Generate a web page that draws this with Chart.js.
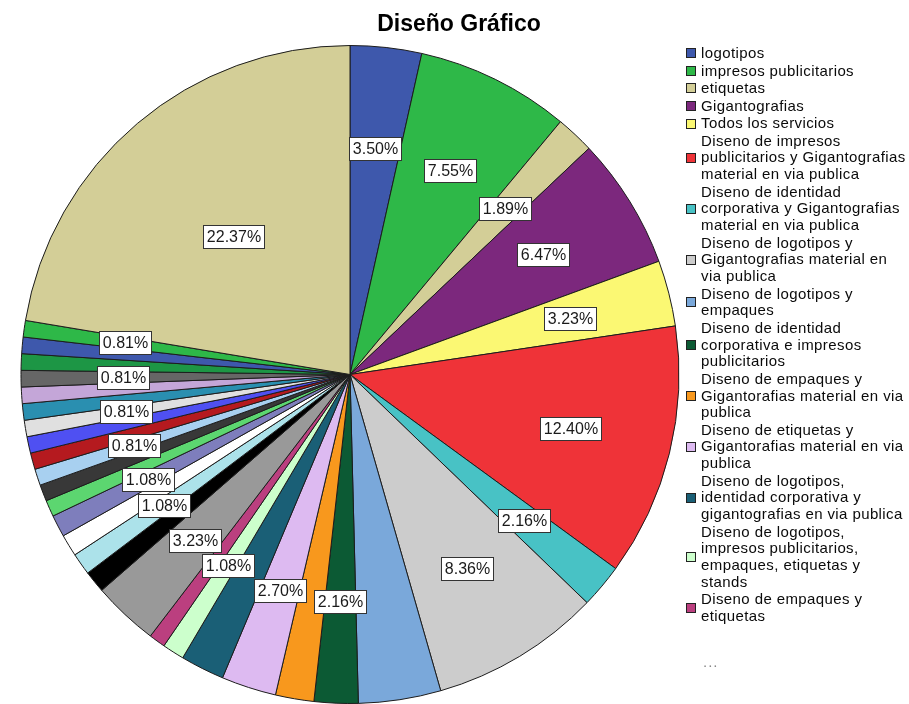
<!DOCTYPE html>
<html>
<head>
<meta charset="utf-8">
<title>Diseño Gráfico</title>
<script src="https://cdn.jsdelivr.net/npm/chart.js@4.4.1/dist/chart.umd.min.js"></script>
<style>
  html, body { margin: 0; padding: 0; background: #fff; }
  #wrap { position: relative; width: 909px; height: 704px; overflow: hidden; }
  #chart { position: absolute; left: 0; top: 0; }
  #title {
    position: absolute; left: 359px; top: 10px; width: 200px; text-align: center;
    font: bold 23px "Liberation Sans", Arial, sans-serif; color: #000; white-space: nowrap;
  }
  #legend {
    position: absolute; left: 686px; top: 45px; width: 223px;
    font-family: "Liberation Sans", Arial, sans-serif; font-size: 15px;
    letter-spacing: 0.4px; line-height: 16.7px; color: #0a0a0a;
  }
  .item { display: flex; align-items: center; margin-bottom: 0.85px; }
  .swatch { flex: none; width: 8px; height: 8px; border: 1px solid #222; margin-right: 5px; }
  .name { width: 207px; }
  #more {
    position: absolute; left: 703px; top: 653px;
    font: 15px "Liberation Sans", Arial, sans-serif; color: #888; letter-spacing: 1px;
  }
</style>
</head>
<body>
<div id="wrap">
  <canvas id="chart" width="909" height="704"></canvas>
  <div id="title">Diseño Gráfico</div>
  <div id="legend"></div>
  <div id="more">...</div>
</div>
<script>
// Categories named in the legend (the remaining slices are listed only as "...")
const categories = [
  'logotipos',
  'impresos publicitarios',
  'etiquetas',
  'Gigantografias',
  'Todos los servicios',
  'Diseno de impresos publicitarios y Gigantografias material en via publica',
  'Diseno de identidad corporativa y Gigantografias material en via publica',
  'Diseno de logotipos y Gigantografias material en via publica',
  'Diseno de logotipos y empaques',
  'Diseno de identidad corporativa e impresos publicitarios',
  'Diseno de empaques y Gigantorafias material en via publica',
  'Diseno de etiquetas y Gigantorafias material en via publica',
  'Diseno de logotipos, identidad corporativa y gigantografias en via publica',
  'Diseno de logotipos, impresos publicitarios, empaques, etiquetas y stands',
  'Diseno de empaques y etiquetas'
];

// Respondents per slice, clockwise from 12 o'clock (N = 371)
const counts = [
  13, 28, 7, 24, 12, 46, 8, 31, 15, 8, 7, 10, 8, 4, 3,
  12, 4, 4, 4, 4, 3, 3, 3, 3, 3, 3, 3, 3, 3, 3, 3, 3,
  83
];

// Slices that carry a percentage label
const labelledSlices = [0, 1, 2, 3, 4, 5, 6, 7, 9, 11, 13, 15, 17, 19, 22, 25, 28, 31, 32];

// 30-colour cycle
const palette = [
  '#3E58AC', '#2EB848', '#D3CE97', '#7C287D', '#FBF873', '#EF3338',
  '#48C2C5', '#CCCCCC', '#7AA8DA', '#0C5A34', '#F8981D', '#DDBAF1',
  '#1A5F76', '#CCFFCC', '#BB3F7F', '#999999', '#000000', '#ACE2EA',
  '#FFFFFF', '#7E7EBC', '#5CD670', '#383838', '#A8D0F0', '#B51A1F',
  '#4F50F2', '#E0E0E0', '#2A8FB0', '#C4A6D8', '#666666', '#1D9645'
];

const total = counts.reduce((a, b) => a + b, 0);
const colours = counts.map((_, i) => palette[i % palette.length]);
const sliceNames = counts.map((_, i) => categories[i] || '');

// HTML legend for the named categories
const legendEl = document.getElementById('legend');
categories.forEach((name, i) => {
  const item = document.createElement('div');
  item.className = 'item';
  const sw = document.createElement('span');
  sw.className = 'swatch';
  sw.style.background = colours[i];
  const tx = document.createElement('span');
  tx.className = 'name';
  tx.textContent = name;
  item.appendChild(sw);
  item.appendChild(tx);
  legendEl.appendChild(item);
});

// Boxed percentage labels placed along each slice's mid-angle
const pctLabels = {
  id: 'pctLabels',
  afterDatasetsDraw(chart) {
    const ctx = chart.ctx;
    const arcs = chart.getDatasetMeta(0).data;
    ctx.save();
    ctx.font = '16px "Liberation Sans", Arial, sans-serif';
    ctx.textAlign = 'center';
    ctx.textBaseline = 'middle';
    labelledSlices.forEach(i => {
      const p = arcs[i].getProps(['x', 'y', 'startAngle', 'endAngle', 'outerRadius'], true);
      const mid = (p.startAngle + p.endAngle) / 2;
      const f = (p.endAngle - p.startAngle) > 1 ? 0.55 : 0.69;
      const cx = p.x + Math.cos(mid) * p.outerRadius * f;
      const cy = p.y + Math.sin(mid) * p.outerRadius * f;
      const txt = (counts[i] / total * 100).toFixed(2) + '%';
      const w = Math.round(ctx.measureText(txt).width + 7);
      const h = 23;
      const bx = Math.round(cx - w / 2) + 0.5;
      const by = Math.round(cy - h / 2) + 0.5;
      ctx.fillStyle = '#fff';
      ctx.fillRect(bx, by, w, h);
      ctx.strokeStyle = '#333';
      ctx.lineWidth = 1;
      ctx.strokeRect(bx, by, w, h);
      ctx.fillStyle = '#1a1a1a';
      ctx.fillText(txt, bx + w / 2, by + h / 2 + 1);
    });
    ctx.restore();
  }
};

new Chart(document.getElementById('chart'), {
  type: 'pie',
  data: {
    labels: sliceNames,
    datasets: [{
      data: counts,
      backgroundColor: colours,
      borderColor: '#1c1c1c',
      borderWidth: 1
    }]
  },
  options: {
    responsive: false,
    animation: false,
    layout: { padding: { left: 20, right: 229, top: 45, bottom: 0 } },
    plugins: {
      legend: { display: false },
      tooltip: { enabled: false },
      title: { display: false }
    }
  },
  plugins: [pctLabels]
});
</script>
</body>
</html>
